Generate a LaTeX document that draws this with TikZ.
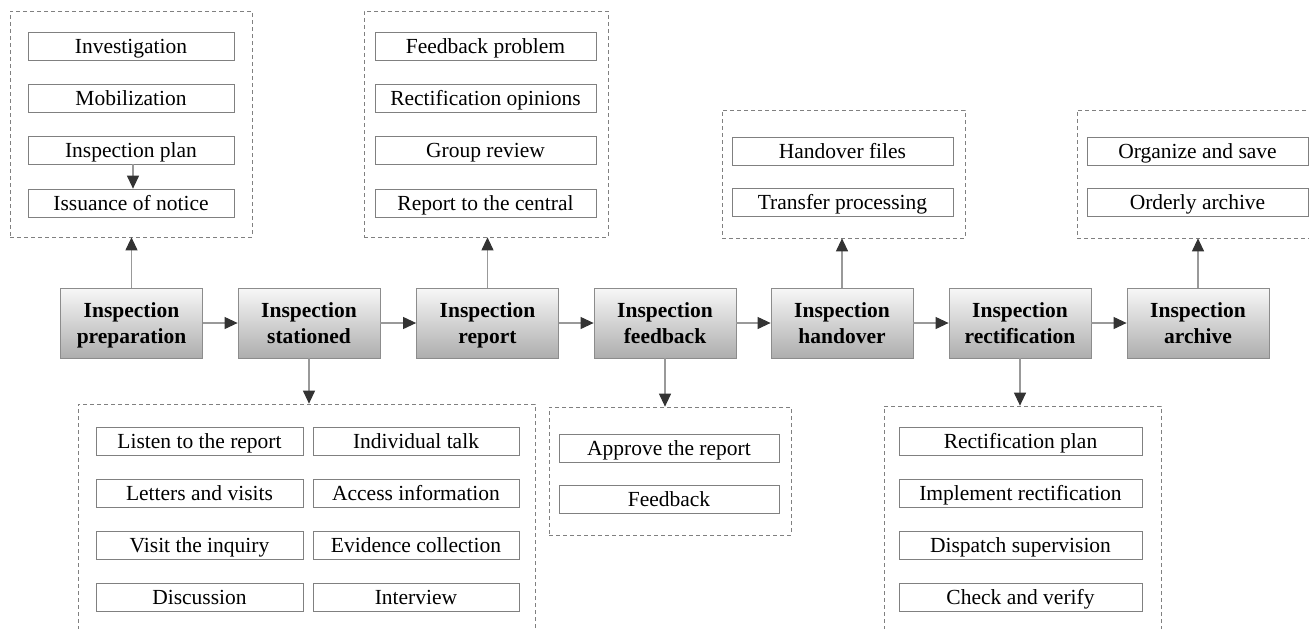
\documentclass[tikz,border=0pt]{standalone}
\usepackage{fontspec}
\setmainfont{Liberation Serif}
\usetikzlibrary{arrows.meta}
\begin{document}
\begin{tikzpicture}[x=1pt,y=-1pt,
  mainbox/.style={draw=black!45, line width=0.8pt, minimum width=142pt, minimum height=70pt, inner sep=0pt,
    top color=black!3, bottom color=black!32, align=center, text height=40pt, text depth=0pt,
    font=\fontsize{21.5}{26}\selectfont\bfseries},
  subbox/.style={draw=black!50, line width=0.7pt, minimum height=28pt, inner sep=0pt,
    text height=14pt, text depth=0pt, font=\fontsize{21.5}{26}\selectfont},
  groupbox/.style={draw=black!50, line width=0.7pt, dash pattern=on 4pt off 3pt, inner sep=0pt},
  flow/.style={draw=black!40, line width=1.1pt,
    -{Triangle[length=13pt,width=12pt,color=black!80,fill=black!80]}}
]
\useasboundingbox (0,0) rectangle (1309,629);
\clip (0,0) rectangle (1309,629);

% main chain
\node[mainbox] (b1) at (131.5,323) {Inspection\\preparation};
\node[mainbox] (b2) at (309,323) {Inspection\\stationed};
\node[mainbox] (b3) at (487.5,323) {Inspection\\report};
\node[mainbox] (b4) at (665,323) {Inspection\\feedback};
\node[mainbox] (b5) at (842,323) {Inspection\\handover};
\node[mainbox] (b6) at (1020,323) {Inspection\\rectification};
\node[mainbox] (b7) at (1198,323) {Inspection\\archive};

% group boxes
\node[groupbox, minimum width=242pt, minimum height=226pt] (g1) at (131,124) {};
\node[groupbox, minimum width=244pt, minimum height=226pt] (g3) at (486,124) {};
\node[groupbox, minimum width=243pt, minimum height=128pt] (g5) at (843.5,174) {};
\node[groupbox, minimum width=243pt, minimum height=128pt] (g7) at (1198.5,174) {};
\node[groupbox, minimum width=457pt, minimum height=236pt] (g2) at (306.5,522) {};
\node[groupbox, minimum width=242pt, minimum height=128pt] (g4) at (670,471) {};
\node[groupbox, minimum width=277pt, minimum height=234pt] (g6) at (1022.5,523) {};

% group 1
\node[subbox, minimum width=206pt] (p1) at (131,46) {Investigation};
\node[subbox, minimum width=206pt] (p2) at (131,98.5) {Mobilization};
\node[subbox, minimum width=206pt] (p3) at (131,150) {Inspection plan};
\node[subbox, minimum width=206pt] (p4) at (131,203) {Issuance of notice};

% group 3
\node[subbox, minimum width=221pt] (r1) at (485.5,46) {Feedback problem};
\node[subbox, minimum width=221pt] (r2) at (485.5,98.5) {Rectification opinions};
\node[subbox, minimum width=221pt] (r3) at (485.5,150) {Group review};
\node[subbox, minimum width=221pt] (r4) at (485.5,203) {Report to the central};

% group 5
\node[subbox, minimum width=221pt] (h1) at (842.5,151.5) {Handover files};
\node[subbox, minimum width=221pt] (h2) at (842.5,202.5) {Transfer processing};

% group 7
\node[subbox, minimum width=221pt] (a1) at (1197.5,151.5) {Organize and save};
\node[subbox, minimum width=221pt] (a2) at (1197.5,202.5) {Orderly archive};

% group 2
\node[subbox, minimum width=207pt] (s1) at (199.5,441) {Listen to the report};
\node[subbox, minimum width=207pt] (s2) at (199.5,493) {Letters and visits};
\node[subbox, minimum width=207pt] (s3) at (199.5,545) {Visit the inquiry};
\node[subbox, minimum width=207pt] (s4) at (199.5,597) {Discussion};
\node[subbox, minimum width=206pt] (s5) at (416,441) {Individual talk};
\node[subbox, minimum width=206pt] (s6) at (416,493) {Access information};
\node[subbox, minimum width=206pt] (s7) at (416,545) {Evidence collection};
\node[subbox, minimum width=206pt] (s8) at (416,597) {Interview};

% group 4
\node[subbox, minimum width=220pt] (f1) at (669,448) {Approve the report};
\node[subbox, minimum width=220pt] (f2) at (669,499) {Feedback};

% group 6
\node[subbox, minimum width=243pt] (c1) at (1020.5,441.5) {Rectification plan};
\node[subbox, minimum width=243pt] (c2) at (1020.5,493) {Implement rectification};
\node[subbox, minimum width=243pt] (c3) at (1020.5,545) {Dispatch supervision};
\node[subbox, minimum width=243pt] (c4) at (1020.5,597) {Check and verify};

% connectors
\draw[flow] (b1.east) -- (b2.west);
\draw[flow] (b2.east) -- (b3.west);
\draw[flow] (b3.east) -- (b4.west);
\draw[flow] (b4.east) -- (b5.west);
\draw[flow] (b5.east) -- (b6.west);
\draw[flow] (b6.east) -- (b7.west);

\draw[flow] (b1.north) -- (b1.north |- g1.south);
\draw[flow] (b3.north) -- (b3.north |- g3.south);
\draw[flow] (b5.north) -- (b5.north |- g5.south);
\draw[flow] (b7.north) -- (b7.north |- g7.south);
\draw[flow] (b2.south) -- (b2.south |- g2.north);
\draw[flow] (b4.south) -- (b4.south |- g4.north);
\draw[flow] (b6.south) -- (b6.south |- g6.north);

\draw[flow] ([xshift=2pt]p3.south) -- ([xshift=2pt]p4.north);
\end{tikzpicture}
\end{document}
